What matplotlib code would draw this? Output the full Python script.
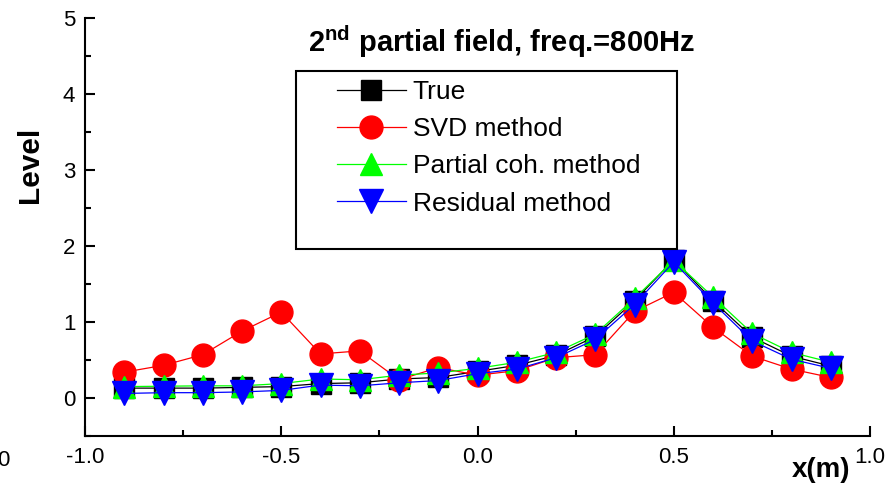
import matplotlib
matplotlib.use("Agg")
import matplotlib.pyplot as plt
from matplotlib.patches import Rectangle
import numpy as np

plt.rcParams['font.family'] = ['Liberation Sans', 'DejaVu Sans']
plt.rcParams['mathtext.fontset'] = 'custom'
plt.rcParams['mathtext.rm'] = 'Liberation Sans'
plt.rcParams['mathtext.bf'] = 'Liberation Sans:bold'

# ----- data -----
x = [-0.9, -0.8, -0.7, -0.6, -0.5, -0.4, -0.3, -0.2, -0.1, 0.0,
     0.1, 0.2, 0.3, 0.4, 0.5, 0.6, 0.7, 0.8, 0.9]
true_lvl = [0.13, 0.13, 0.13, 0.14, 0.15, 0.19, 0.20, 0.25, 0.27, 0.35,
            0.43, 0.56, 0.81, 1.28, 1.82, 1.28, 0.80, 0.55, 0.42]
svd_lvl = [0.34, 0.43, 0.57, 0.88, 1.13, 0.58, 0.62, 0.24, 0.40, 0.30,
           0.36, 0.53, 0.57, 1.14, 1.39, 0.93, 0.55, 0.38, 0.27]
pcoh_lvl = [0.15, 0.155, 0.16, 0.16, 0.19, 0.25, 0.24, 0.30, 0.33, 0.39,
            0.47, 0.60, 0.84, 1.31, 1.81, 1.33, 0.85, 0.60, 0.47]
resid_lvl = [0.06, 0.07, 0.07, 0.08, 0.10, 0.17, 0.16, 0.20, 0.23, 0.32,
             0.38, 0.53, 0.77, 1.23, 1.79, 1.25, 0.75, 0.51, 0.39]

x_major = [-1.0, -0.5, 0.0, 0.5, 1.0]
x_labels = ["-1.0", "-0.5", "0.0", "0.5", "1.0"]
x_minor = [-0.75, -0.25, 0.25, 0.75]
y_major = [0, 1, 2, 3, 4, 5]
y_minor = [-0.5, 0.5, 1.5, 2.5, 3.5, 4.5]
# -------------------------------------

W, H = 893, 487
fig = plt.figure(figsize=(W / 100, H / 100), dpi=100)
ax = fig.add_axes([85 / W, 1 - 436 / H, 785 / W, 418 / H])

lw = 0.9
ax.plot(x, true_lvl, color='black', lw=lw, marker='s', ms=15, label='True')
ax.plot(x, svd_lvl, color='red', lw=lw, marker='o', ms=16.5, label='SVD method')
ax.plot(x, pcoh_lvl, color='#00ff00', lw=lw, marker='^', ms=16.5,
        label='Partial coh. method')
ax.plot(x, resid_lvl, color='blue', lw=lw, marker='v', ms=17,
        label='Residual method')

ax.set_xlim(-1.0, 1.0)
ax.set_ylim(-0.5, 5)
ax.set_xticks(x_major)
ax.set_xticklabels(x_labels)
ax.set_xticks(x_minor, minor=True)
ax.set_yticks(y_major)
ax.set_yticks(y_minor, minor=True)
ax.tick_params(which='both', direction='in', width=1.5, labelsize=16)
ax.tick_params(which='major', length=7.5, pad=8)
ax.tick_params(which='minor', length=4)
ax.tick_params(axis='y', which='major', pad=7)

ax.spines['top'].set_visible(False)
ax.spines['right'].set_visible(False)
for s in ['left', 'bottom']:
    ax.spines[s].set_linewidth(1.5)

# axis labels
fig.text(30 / W, 1 - 165 / H, "Level", fontsize=21.5, fontweight='bold',
         rotation=90, ha='center', va='center')
fig.text(821 / W, 1 - 470 / H, "x(m)", fontsize=20, fontweight='bold',
         ha='center', va='center')
fig.text(10 / W, 1 - 461 / H, "0", fontsize=16, ha='right', va='center')

# title
fig.text(502 / W, 1 - 42 / H, r"2$^{\bf nd}$ partial field, freq.=800Hz",
         fontsize=21, fontweight='bold', ha='center', va='center')

# legend box
ax.add_patch(Rectangle(((296 - 85) / 785, (436 - 249) / 418),
                       (677 - 296) / 785, (249 - 71) / 418,
                       transform=ax.transAxes, fill=False, lw=1.5,
                       edgecolor='black', zorder=5))
ax.legend(loc='upper left', bbox_to_anchor=((337 - 85) / 785, (436 - 80) / 418),
          frameon=False, fontsize=19, handlelength=2.6, handletextpad=0.27,
          labelspacing=0.5, borderpad=0, borderaxespad=0, numpoints=1)

fig.savefig("out.png", dpi=100)
